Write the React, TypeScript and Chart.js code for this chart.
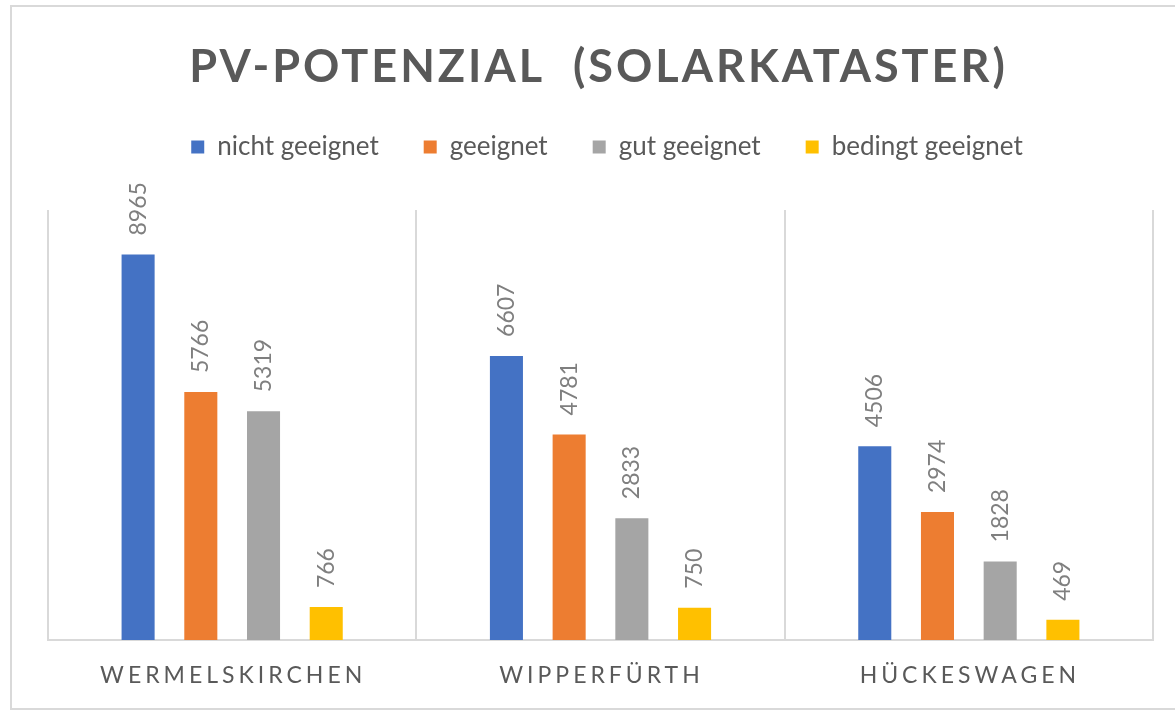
import React, { useEffect, useRef } from 'react';
import { Chart, registerables } from 'chart.js';

Chart.register(...registerables);

const titleText = 'PV-POTENZIAL  (SOLARKATASTER)';
const categories = ['WERMELSKIRCHEN', 'WIPPERFÜRTH', 'HÜCKESWAGEN'];
const seriesNames = ['nicht geeignet', 'geeignet', 'gut geeignet', 'bedingt geeignet'];
const nichtGeeignet = [8965, 6607, 4506];
const geeignet = [5766, 4781, 2974];
const gutGeeignet = [5319, 2833, 1828];
const bedingtGeeignet = [766, 750, 469];
const seriesColors = ['#4472C4', '#ED7D31', '#A5A5A5', '#FFC000'];
const yMin = 0;
const yMax = 10000;

const FONT = 'Lato';
const TEXT_DARK = '#595959';
const TEXT_LABEL = '#7f7f7f';
const GRID = '#d9d9d9';

const titlePlugin = {
  id: 'spacedTitle',
  afterDraw(chart: any) {
    const { ctx, chartArea } = chart;
    ctx.save();
    ctx.font = `bold 45px ${FONT}`;
    (ctx as any).letterSpacing = '3px';
    ctx.fillStyle = TEXT_DARK;
    ctx.textAlign = 'center';
    ctx.textBaseline = 'alphabetic';
    ctx.fillText(titleText, (chartArea.left + chartArea.right) / 2 - 2, 75);
    ctx.restore();
  },
};

const categoryLabelPlugin = {
  id: 'spacedCategoryLabels',
  afterDraw(chart: any) {
    const { ctx } = chart;
    const xScale = chart.scales.x;
    ctx.save();
    ctx.font = `23px ${FONT}`;
    (ctx as any).letterSpacing = '4px';
    ctx.fillStyle = TEXT_DARK;
    ctx.textAlign = 'center';
    ctx.textBaseline = 'alphabetic';
    chart.data.labels.forEach((label: string, i: number) => {
      const x = xScale.getPixelForValue(i);
      ctx.fillText(label, x + 1, 676);
    });
    ctx.restore();
  },
};

const valueLabelPlugin = {
  id: 'rotatedValueLabels',
  afterDatasetsDraw(chart: any) {
    const { ctx } = chart;
    ctx.save();
    ctx.font = `23px ${FONT}`;
    ctx.fillStyle = TEXT_LABEL;
    ctx.textAlign = 'left';
    ctx.textBaseline = 'middle';
    chart.data.datasets.forEach((ds: any, di: number) => {
      const meta = chart.getDatasetMeta(di);
      meta.data.forEach((el: any, i: number) => {
        ctx.save();
        ctx.translate(el.x, el.y - 19);
        ctx.rotate(-Math.PI / 2);
        ctx.fillText(String(ds.data[i]), 0, 0);
        ctx.restore();
      });
    });
    ctx.restore();
  },
};

export default function App() {
  const ref = useRef<HTMLCanvasElement>(null);

  useEffect(() => {
    const seriesData = [nichtGeeignet, geeignet, gutGeeignet, bedingtGeeignet];
    const chart = new Chart(ref.current as HTMLCanvasElement, {
      type: 'bar',
      data: {
        labels: categories,
        datasets: seriesNames.map((name, i) => ({
          label: name,
          data: seriesData[i],
          backgroundColor: seriesColors[i],
          borderWidth: 0,
          barPercentage: 0.527,
          categoryPercentage: 0.681,
        })),
      },
      options: {
        responsive: false,
        animation: false,
        devicePixelRatio: 1,
        layout: { padding: { top: 82, left: 36, right: 36, bottom: 67 } },
        plugins: {
          title: { display: false },
          tooltip: { enabled: false },
          legend: {
            position: 'top',
            labels: {
              boxWidth: 13,
              boxHeight: 13,
              padding: 45,
              color: TEXT_DARK,
              font: { family: FONT, size: 26 },
            },
          },
        },
        scales: {
          x: {
            grid: { color: GRID, lineWidth: 2, drawTicks: false, offset: true },
            border: { color: GRID, width: 2 },
            ticks: { display: false },
          },
          y: { display: false, min: yMin, max: yMax },
          topSpacer: {
            type: 'category',
            position: 'top',
            labels: categories,
            grid: { display: false },
            border: { display: false },
            ticks: { display: false },
            afterFit: (s: any) => {
              s.height = 40;
            },
          },
          rightSpacer: {
            type: 'linear',
            position: 'right',
            grid: { display: false },
            border: { display: false },
            ticks: { display: false },
            afterFit: (s: any) => {
              s.width = 13;
            },
          },
        },
      },
      plugins: [titlePlugin, categoryLabelPlugin, valueLabelPlugin],
    } as any);
    return () => chart.destroy();
  }, []);

  return (
    <div style={{ position: 'fixed', left: 0, top: 0, width: 1175, height: 711, overflow: 'hidden', background: '#ffffff' }}>
      <div
        style={{
          position: 'absolute',
          left: 10,
          top: 5,
          width: 1200,
          height: 705,
          border: '2px solid #d9d9d9',
          boxSizing: 'border-box',
        }}
      >
        <canvas ref={ref} width={1190} height={700} style={{ display: 'block', width: 1190, height: 700 }} />
      </div>
    </div>
  );
}
